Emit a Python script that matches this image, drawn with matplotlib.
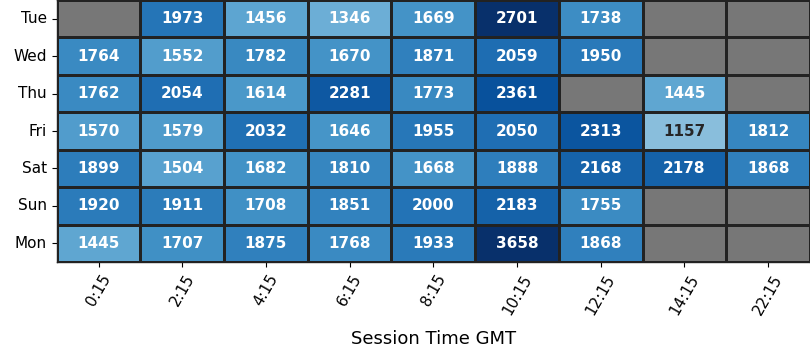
import numpy as np
import pandas as pd
import matplotlib
matplotlib.use("Agg")
import matplotlib.pyplot as plt
import seaborn as sns

days = ["Tue", "Wed", "Thu", "Fri", "Sat", "Sun", "Mon"]
times = ["0:15", "2:15", "4:15", "6:15", "8:15", "10:15", "12:15", "14:15", "22:15"]
nan = np.nan
vals = [
    [nan, 1973, 1456, 1346, 1669, 2701, 1738, nan, nan],
    [1764, 1552, 1782, 1670, 1871, 2059, 1950, nan, nan],
    [1762, 2054, 1614, 2281, 1773, 2361, nan, 1445, nan],
    [1570, 1579, 2032, 1646, 1955, 2050, 2313, 1157, 1812],
    [1899, 1504, 1682, 1810, 1668, 1888, 2168, 2178, 1868],
    [1920, 1911, 1708, 1851, 2000, 2183, 1755, nan, nan],
    [1445, 1707, 1875, 1768, 1933, 3658, 1868, nan, nan],
]

df = pd.DataFrame(vals, index=days, columns=times)

fig = plt.figure(figsize=(8.1, 3.6), dpi=100)
ax = fig.add_axes([0.070, 0.272, 0.930, 0.728])
ax.set_facecolor("#777777")
sns.heatmap(df, ax=ax, cmap="Blues", vmin=0, vmax=2700, cbar=False,
            annot=True, fmt=".0f", annot_kws={"fontsize": 11, "fontweight": "bold"},
            linewidths=1.0, linecolor="#222222")
for s in ax.spines.values():
    s.set_visible(True)
    s.set_color("#222222")
    s.set_linewidth(1.0)
ax.set_xlabel("Session Time GMT", fontsize=13, labelpad=9)
ax.set_ylabel("")
ax.tick_params(axis="x", labelsize=11, rotation=60)
ax.tick_params(axis="y", labelsize=11, rotation=0)
fig.savefig("out.png", dpi=100)
